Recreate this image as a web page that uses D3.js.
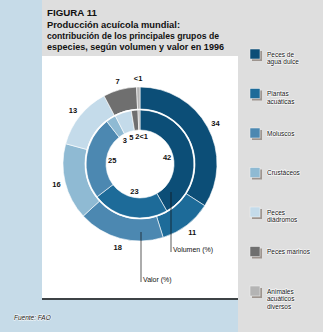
<!DOCTYPE html>
<html>
<head>
<meta charset="utf-8">
<script src="https://cdn.jsdelivr.net/npm/d3@7"></script>
<style>
  body { margin: 0; padding: 0; }
  svg { display: block; font-family: "Liberation Sans", Arial, sans-serif; }
</style>
</head>
<body>
<div id="main"></div>
<script>
const ctx = {
    W: 323,
    H: 332,
    cx: 140,
    cy: 164
};

// data
const titleLines = ["FIGURA 11", "Producción acuícola mundial:",
                    "contribución de los principales grupos de",
                    "especies, según volumen y valor en 1996"];
const categories = ["Peces de agua dulce", "Plantas acuáticas", "Moluscos", "Crustáceos",
                    "Peces diádromos", "Peces marinos", "Animales acuáticos diversos"];
const legendLines = [["Peces de", "agua dulce"], ["Plantas", "acuáticas"], ["Moluscos"],
                     ["Crustáceos"], ["Peces", "diádromos"], ["Peces marinos"],
                     ["Animales", "acuáticos", "diversos"]];
const volumen = [42, 23, 25, 3, 5, 2, 0.6];
const volumenLabels = ["42", "23", "25", "3", "5", "2", "<1"];
const valor = [34, 11, 18, 16, 13, 7, 0.7];
const valorLabels = ["34", "11", "18", "16", "13", "7", "<1"];
const colors = ["#0c4e77", "#1d6b99", "#4c88b1", "#8fbad3", "#c4dbea", "#6f6f6f", "#b4b4b4"];

function drawRing(g, values, labels, rIn, rOut, rLab, ringName) {
    let pie = d3.pie().sort(null).value(d => d);
    let arcs = pie(values);
    let arc = d3.arc().innerRadius(rIn).outerRadius(rOut);
    let labArc = d3.arc().innerRadius(rLab).outerRadius(rLab);
    let n = arcs.length;

    g.selectAll("path." + ringName)
      .data(arcs)
      .enter().append("path")
      .attr("class", ringName)
      .attr("d", arc)
      .attr("fill", (d, i) => colors[i])
      .attr("stroke", "white")
      .attr("stroke-width", 0.6);

    // the two tiny slices at the top of the inner ring share one spot: "2<1"
    let shared = (i) => ringName == "vol" && i >= n - 2;

    g.selectAll("text." + ringName)
      .data(arcs)
      .enter().append("text")
      .attr("class", ringName)
      .attr("x", (d, i) => shared(i) ? labArc.centroid(arcs[n - 1])[0] : labArc.centroid(d)[0])
      .attr("y", (d, i) => (shared(i) ? labArc.centroid(arcs[n - 1])[1] : labArc.centroid(d)[1]) + 3)
      .attr("text-anchor", (d, i) => shared(i) ? (i == n - 2 ? "end" : "start") : "middle")
      .attr("font-size", "7.5px")
      .attr("font-weight", "bold")
      .attr("fill", "#111")
      .text((d, i) => labels[i]);
}

function createViz() {
    let svg = d3.select("#main").append("svg")
        .attr("width", ctx.W)
        .attr("height", ctx.H);

    // backgrounds
    svg.append("rect").attr("width", ctx.W).attr("height", ctx.H).attr("fill", "#c6dbe8");
    svg.append("rect").attr("x", 42).attr("y", 0).attr("width", ctx.W - 42).attr("height", 56)
       .attr("fill", "#dedede");
    svg.append("rect").attr("x", 238).attr("y", 0).attr("width", ctx.W - 238).attr("height", ctx.H)
       .attr("fill", "#dedede");
    svg.append("rect").attr("x", 42).attr("y", 56).attr("width", 196).attr("height", 242)
       .attr("fill", "white");
    svg.append("line").attr("x1", 42).attr("x2", 238).attr("y1", 299).attr("y2", 299)
       .attr("stroke", "#111").attr("stroke-width", 1.6);

    // title
    let tw = [50, 133, 172, 177];
    let ty = [16, 28, 39, 50];
    svg.selectAll("text.title")
       .data(titleLines)
       .enter().append("text")
       .attr("class", "title")
       .attr("x", 47)
       .attr("y", (d, i) => ty[i])
       .attr("font-size", (d, i) => i == 0 ? "9px" : "9.5px")
       .attr("font-weight", "bold")
       .attr("fill", "#111")
       .attr("textLength", (d, i) => tw[i])
       .attr("lengthAdjust", "spacingAndGlyphs")
       .text(d => d);

    let g = svg.append("g").attr("transform", `translate(${ctx.cx},${ctx.cy})`);

    drawRing(g, valor, valorLabels, 55, 77, 86, "val");
    drawRing(g, volumen, volumenLabels, 34, 54, 28, "vol");

    g.append("circle").attr("r", 54.5).attr("fill", "none")
     .attr("stroke", "white").attr("stroke-width", 1.2);

    // leader lines
    g.append("line").attr("x1", 31).attr("x2", 31).attr("y1", 28).attr("y2", 88)
     .attr("stroke", "#111").attr("stroke-width", 0.7);
    g.append("text").attr("x", 33).attr("y", 88).attr("font-size", "7px").attr("fill", "#111")
     .text("Volumen (%)");
    g.append("line").attr("x1", 1).attr("x2", 1).attr("y1", 68).attr("y2", 118)
     .attr("stroke", "#111").attr("stroke-width", 0.7);
    g.append("text").attr("x", 3).attr("y", 118).attr("font-size", "7px").attr("fill", "#111")
     .text("Valor (%)");

    // legend
    let leg = svg.append("g");
    let items = leg.selectAll("g.item")
        .data(categories)
        .enter().append("g")
        .attr("class", "item")
        .attr("transform", (d, i) => `translate(250,${49 + i * 39.5})`);
    items.append("rect").attr("x", 2).attr("y", 2).attr("width", 10).attr("height", 10)
         .attr("fill", "#9d948e");
    items.append("rect").attr("width", 10).attr("height", 10)
         .attr("fill", (d, i) => colors[i])
         .attr("stroke", "#f4f4f4").attr("stroke-width", 0.5);
    items.each(function(d, i) {
        d3.select(this).selectAll("text")
          .data(legendLines[i])
          .enter().append("text")
          .attr("x", 17)
          .attr("y", (t, j) => 7.5 + j * 7.5)
          .attr("font-size", "6.5px")
          .attr("fill", "#111")
          .attr("stroke", "white")
          .attr("stroke-width", 1.2)
          .attr("paint-order", "stroke")
          .text(t => t);
    });

    svg.append("text").attr("x", 14).attr("y", 320)
       .attr("font-size", "6.5px").attr("font-style", "italic").attr("fill", "#111")
       .attr("stroke", "white").attr("stroke-width", 1).attr("paint-order", "stroke")
       .text("Fuente: FAO");
}

createViz();
</script>
</body>
</html>
